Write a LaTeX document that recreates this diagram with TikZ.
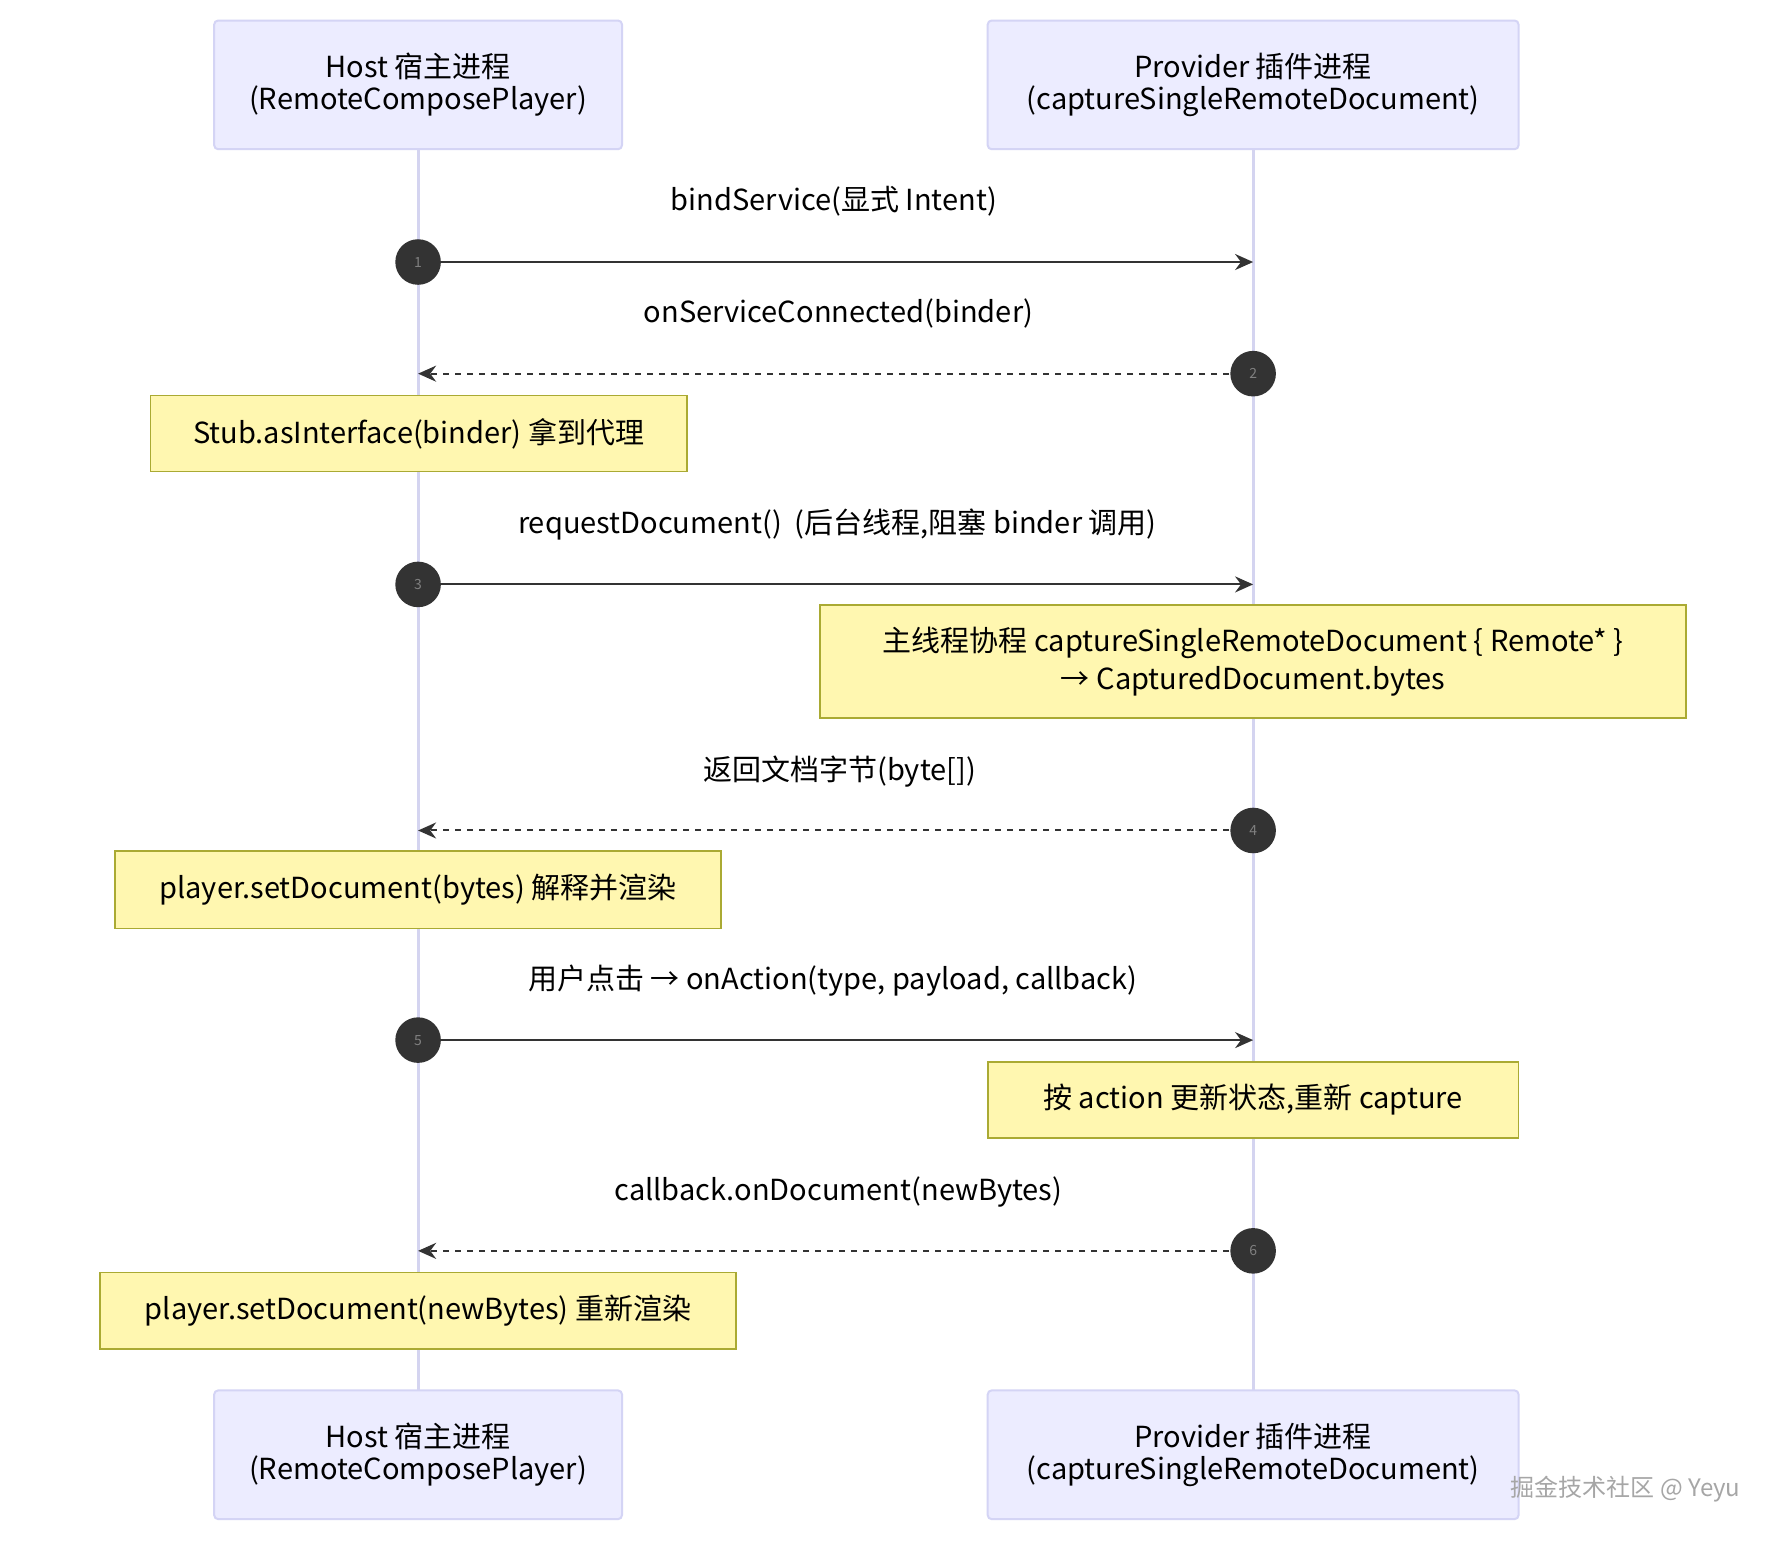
\documentclass[tikz,border=0pt]{standalone}
\usepackage{fontspec}
\setmainfont{Noto Sans CJK SC}
\usetikzlibrary{arrows.meta}
\tikzstyle{actor-box}=[draw=actorline, fill=actorfill, line width=1pt, rounded corners=2pt, minimum width=358*0.02cm, minimum height=113*0.02cm, align=center, font=\fontsize{14.5}{16}\selectfont]
\tikzstyle{life-line}=[draw=lifeline, line width=1.5pt]
\tikzstyle{note-box}=[draw=noteline, fill=notefill, line width=0.8pt, align=center, font=\fontsize{14.5}{19}\selectfont, inner sep=0pt]
\tikzstyle{step-point}=[circle, fill=stepfill, minimum size=40*0.02cm, inner sep=0pt, font=\scriptsize, text=gray]
\tikzstyle{msg-label}=[font=\fontsize{14.5}{17}\selectfont]
\tikzstyle{msg-call}=[draw=msgline, line width=1pt, -{Stealth[length=9pt,width=8pt]}]
\tikzstyle{msg-reply}=[msg-call, dashed]
\definecolor{actorfill}{HTML}{ECECFF}
\definecolor{actorline}{HTML}{D4D4F5}
\definecolor{lifeline}{HTML}{D4D4F0}
\definecolor{notefill}{HTML}{FFF7B0}
\definecolor{noteline}{HTML}{AAAA33}
\definecolor{stepfill}{HTML}{333333}
\definecolor{msgline}{HTML}{333333}

\begin{document}
\begin{tikzpicture}[x=0.02cm, y=-0.02cm]
      \useasboundingbox[fill=white] (0,0) rectangle (1566,1352);
      % lifelines
      \draw[life-line] (367,131) -- (367,1220);
      \draw[life-line] (1100,131) -- (1100,1220);
      % actors
      \node (hostTop) at (367,74.5) [actor-box] {Host 宿主进程\\(RemoteComposePlayer)};
      \node (provTop) at (1100,74.5) [actor-box, minimum width=466*0.02cm] {Provider 插件进程\\(captureSingleRemoteDocument)};
      \node (hostBot) at (367,1277) [actor-box] {Host 宿主进程\\(RemoteComposePlayer)};
      \node (provBot) at (1100,1277) [actor-box, minimum width=466*0.02cm] {Provider 插件进程\\(captureSingleRemoteDocument)};
      % anchor points on the lifelines
      \coordinate (host1) at (367,230);  \coordinate (prov1) at (1100,230);
      \coordinate (host2) at (367,328);  \coordinate (prov2) at (1100,328);
      \coordinate (host3) at (367,513);  \coordinate (prov3) at (1100,513);
      \coordinate (host4) at (367,729);  \coordinate (prov4) at (1100,729);
      \coordinate (host5) at (367,913);  \coordinate (prov5) at (1100,913);
      \coordinate (host6) at (367,1098); \coordinate (prov6) at (1100,1098);
      % messages
      \node (label1) at (732,177) [msg-label] {bindService(显式 Intent)};
      \draw[msg-call] (host1) -- (prov1);
      \node (step1) at (host1) [step-point] {1};
      \node (label2) at (736,275) [msg-label] {onServiceConnected(binder)};
      \draw[msg-reply] (prov2) -- (host2);
      \node (step2) at (prov2) [step-point] {2};
      \node (note1) at (367.5,380.5) [note-box, minimum width=471*0.02cm, minimum height=67*0.02cm] {Stub.asInterface(binder) 拿到代理};
      \node (label3) at (735,460) [msg-label] {requestDocument()\ \ (后台线程,阻塞 binder 调用)};
      \draw[msg-call] (host3) -- (prov3);
      \node (step3) at (host3) [step-point] {3};
      \node (note2) at (1100,580.5) [note-box, minimum width=760*0.02cm, minimum height=99*0.02cm] {主线程协程 captureSingleRemoteDocument \{ Remote* \}\\→ CapturedDocument.bytes};
      \node (label4) at (737,677) [msg-label] {返回文档字节(byte[])};
      \draw[msg-reply] (prov4) -- (host4);
      \node (step4) at (prov4) [step-point] {4};
      \node (note3) at (367,781) [note-box, minimum width=532*0.02cm, minimum height=68*0.02cm] {player.setDocument(bytes) 解释并渲染};
      \node (label5) at (731,861) [msg-label] {用户点击 → onAction(type, payload, callback)};
      \draw[msg-call] (host5) -- (prov5);
      \node (step5) at (host5) [step-point] {5};
      \node (note4) at (1100,965.5) [note-box, minimum width=466*0.02cm, minimum height=67*0.02cm] {按 action 更新状态,重新 capture};
      \node (label6) at (736,1046) [msg-label] {callback.onDocument(newBytes)};
      \draw[msg-reply] (prov6) -- (host6);
      \node (step6) at (prov6) [step-point] {6};
      \node (note5) at (367,1150.5) [note-box, minimum width=558*0.02cm, minimum height=67*0.02cm] {player.setDocument(newBytes) 重新渲染};
      % watermark
      \node (mark) at (1427,1307) [font=\fontsize{12}{14}\selectfont, text=gray!70] {掘金技术社区 @ Yeyu};
    \end{tikzpicture}
\end{document}
